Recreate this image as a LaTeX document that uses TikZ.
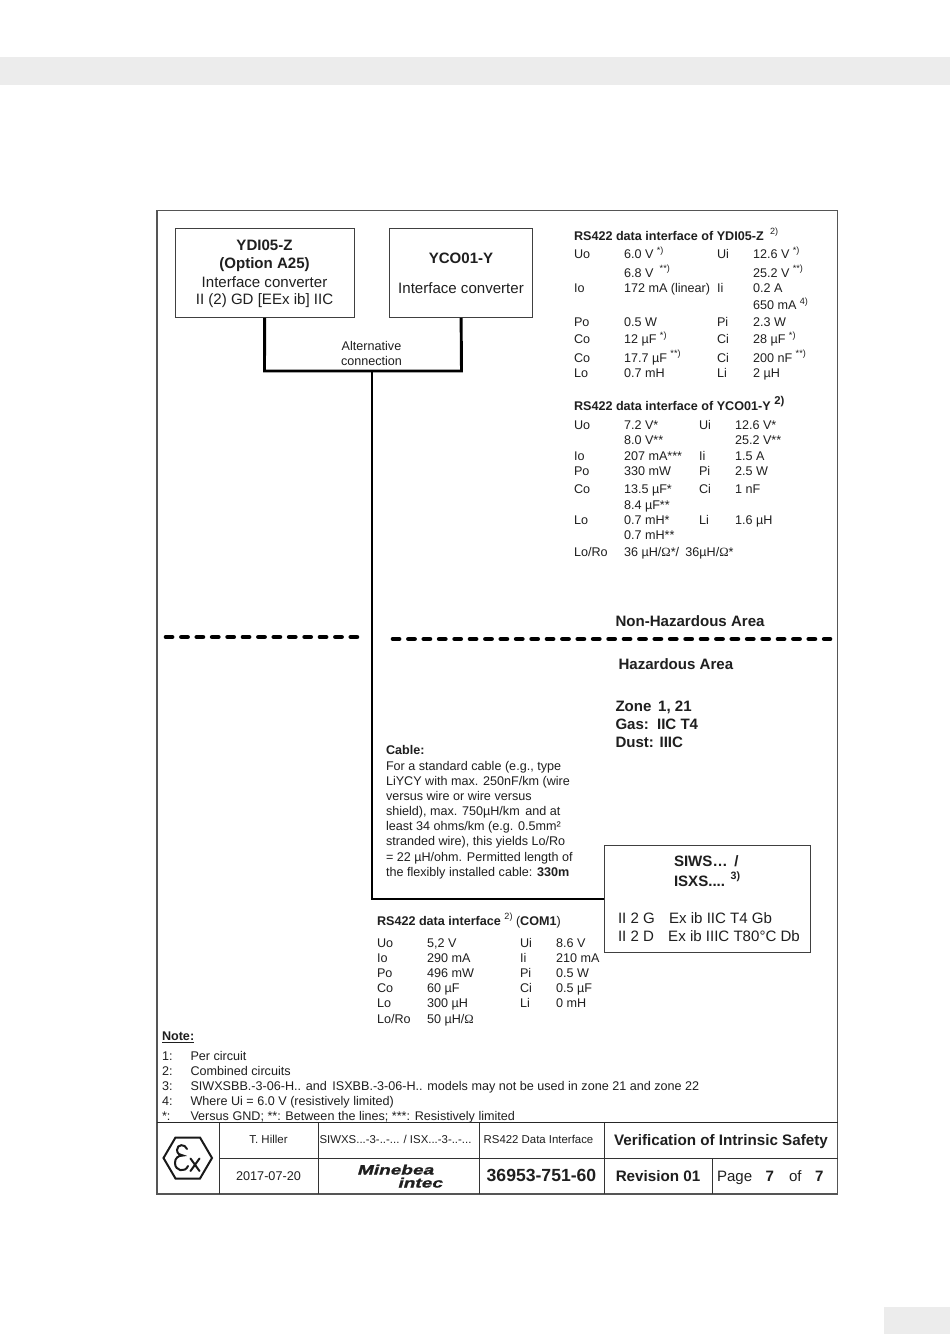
\documentclass[tikz,border=0pt]{standalone}
\usepackage{fontspec}
\setmainfont{Liberation Sans}
\newfontfamily\serifom{Liberation Serif}
\newfontfamily\mbf[FakeBold=1.2,FakeSlant=0.2]{Liberation Sans Bold}
\newcounter{tn}
\newcommand{\fs}[1]{\fontsize{#1}{#1}\selectfont}
\newcommand{\Om}{{\serifom Ω}}
\newcommand{\Up}[1]{\raisebox{0.45em}{\fontsize{6.8}{7}\selectfont #1}}
\newcommand{\LT}[4][9.45]{\stepcounter{tn}\node[txt,name=t\arabic{tn}] at (#2,#3) {\fs{#1}#4};}
\newcommand{\CT}[4][9.45]{\stepcounter{tn}\node[ctxt,name=t\arabic{tn}] at (#2,#3) {\fs{#1}#4};}
\newcommand{\Row}[5]{\LT{#1}{#2}{#3}\LT{#4}{#2}{#5}}
\definecolor{frameg}{HTML}{555555}
\definecolor{bandg}{HTML}{ECECEC}
\tikzset{
 txt/.style={anchor=base west,inner sep=0pt,outer sep=0pt,text=black!88},
 ctxt/.style={anchor=base,inner sep=0pt,outer sep=0pt,text=black!88},
 boxed/.style={draw=black!75,line width=0.6pt,fill=white},
 heavy/.style={line width=2.2pt,draw=black,line join=miter},
 divider/.style={line width=3.5pt,draw=black,line cap=round,dash pattern=on 4.6pt off 6.95pt},
 rule/.style={draw=black!80,line width=0.7pt},
 framerule/.style={draw=frameg,line width=0.8pt},
 exline/.style={line width=1.5pt,draw=black!90},
}
\begin{document}
\begin{tikzpicture}[x=0.75pt,y=-0.75pt]
\useasboundingbox (0,0) rectangle (950,1344);
\fill[white] (0,0) rectangle (950,1344);
\fill[bandg] (0,57) rectangle (950,85);
\fill[bandg] (884,1307) rectangle (950,1334);

% frame
\draw[framerule] (157,210.5) rectangle (837.5,1194);

% connectors
\coordinate (jl) at (264.5,371);
\coordinate (jr) at (461.5,371);
\coordinate (jm) at (372,371);
\coordinate (jb) at (372,899);
\node[boxed,minimum width=179pt*0.75,minimum height=89pt*0.75,inner sep=0pt,anchor=north west] (ydi) at (174.7,228) {};
\node[boxed,minimum width=143pt*0.75,minimum height=89pt*0.75,inner sep=0pt,anchor=north west] (yco) at (389.2,228) {};
\node[boxed,minimum width=206pt*0.75,minimum height=107pt*0.75,inner sep=0pt,anchor=north west] (siws) at (604.2,845) {};
\draw[heavy] (ydi.south) -- (jl) -- (jr) -- (yco.south);
\draw[heavy] (jm) -- (jb) -- (jb -| siws.west);

% dividers
\coordinate (dla) at (166,637); \coordinate (dlb) at (358,637);
\coordinate (dra) at (393,639); \coordinate (drb) at (830,639);
\draw[divider] (dla) -- (dlb);
\draw[divider] (dra) -- (drb);

% box texts
\CT[11.3]{264.5}{250.5}{\textbf{YDI05-Z}}
\CT[11.3]{264.5}{268.5}{\textbf{(Option A25)}}
\CT[11.3]{264.5}{287}{Interface converter}
\CT[11.3]{264.5}{305}{II (2) GD [EEx ib] IIC}
\CT[11.3]{461}{263.5}{\textbf{YCO01-Y}}
\CT[11.3]{461}{294}{Interface converter}
\CT{371.5}{350}{Alternative}
\CT{371.5}{365}{connection}

% YDI05-Z data
\LT{574}{240.5}{\textbf{RS422 data interface of YDI05-Z}\enspace\Up{2)}}
\Row{574}{259}{Uo}{624}{6.0 V \Up{*)}}\LT{717}{259}{Ui}\LT{753}{259}{12.6 V \Up{*)}}
\LT{624}{277}{6.8 V\enspace\Up{**)}}\LT{753}{277}{25.2 V \Up{**)}}
\Row{574}{293}{Io}{624}{172 mA (linear)}\LT{717}{293}{Ii}\LT{753}{293}{0.2 A}
\LT{753}{310}{650 mA \Up{4)}}
\Row{574}{326}{Po}{624}{0.5 W}\LT{717}{326}{Pi}\LT{753}{326}{2.3 W}
\Row{574}{344}{Co}{624}{12 µF \Up{*)}}\LT{717}{344}{Ci}\LT{753}{344}{28 µF \Up{*)}}
\Row{574}{362}{Co}{624}{17.7 µF \Up{**)}}\LT{717}{362}{Ci}\LT{753}{362}{200 nF \Up{**)}}
\Row{574}{377}{Lo}{624}{0.7 mH}\LT{717}{377}{Li}\LT{753}{377}{2 µH}

% YCO01-Y data
\LT{574}{410}{\textbf{RS422 data interface of YCO01-Y \Up{\fs{8.5}2)}}}
\Row{574}{429}{Uo}{624}{7.2 V*}\LT{699}{429}{Ui}\LT{735}{429}{12.6 V*}
\LT{624}{444}{8.0 V**}\LT{735}{444}{25.2 V**}
\Row{574}{460}{Io}{624}{207 mA***}\LT{699}{460}{Ii}\LT{735}{460}{1.5 A}
\Row{574}{475}{Po}{624}{330 mW}\LT{699}{475}{Pi}\LT{735}{475}{2.5 W}
\Row{574}{493}{Co}{624}{13.5 µF*}\LT{699}{493}{Ci}\LT{735}{493}{1 nF}
\LT{624}{509}{8.4 µF**}
\Row{574}{524}{Lo}{624}{0.7 mH*}\LT{699}{524}{Li}\LT{735}{524}{1.6 µH}
\LT{624}{539}{0.7 mH**}
\Row{574}{556}{Lo/Ro}{624}{36 µH/\Om*/\enspace36µH/\Om*}

% areas
\LT[11.3]{615.5}{626}{\textbf{Non-Hazardous Area}}
\LT[11.3]{618.5}{669}{\textbf{Hazardous Area}}
\LT[11.3]{615.5}{711}{\textbf{Zone\, 1, 21}}
\LT[11.3]{615.5}{729}{\textbf{Gas:\, IIC T4}}
\LT[11.3]{615.5}{747}{\textbf{Dust: IIIC}}

% cable
\LT{386}{754}{\textbf{Cable:}}
\LT{386}{770}{For a standard cable (e.g., type}
\LT{386}{785}{LiYCY with max. 250nF/km (wire}
\LT{386}{800}{versus wire or wire versus}
\LT{386}{815}{shield), max. 750µH/km\, and at}
\LT{386}{830}{least 34 ohms/km (e.g. 0.5mm²}
\LT{386}{845}{stranded wire), this yields Lo/Ro}
\LT{386}{861}{= 22 µH/ohm. Permitted length of}
\LT{386}{876}{the flexibly installed cable: \textbf{330m}}

% SIWS box
\LT[11.3]{674}{866}{\textbf{SIWS…\, /}}
\LT[11.3]{674}{886}{\textbf{ISXS.... \Up{\fs{8}3)}}}
\LT[11.3]{618}{923}{II 2 G\enspace\, Ex ib IIC T4 Gb}
\LT[11.3]{618}{941}{II 2 D\enspace\, Ex ib IIIC T80°C Db}

% COM1 data
\LT{377}{925}{\textbf{RS422 data interface} \Up{2)} (\textbf{COM1})}
\Row{377}{947}{Uo}{427}{5,2 V}\LT{520}{947}{Ui}\LT{556}{947}{8.6 V}
\Row{377}{962}{Io}{427}{290 mA}\LT{520}{962}{Ii}\LT{556}{962}{210 mA}
\Row{377}{977}{Po}{427}{496 mW}\LT{520}{977}{Pi}\LT{556}{977}{0.5 W}
\Row{377}{992}{Co}{427}{60 µF}\LT{520}{992}{Ci}\LT{556}{992}{0.5 µF}
\Row{377}{1007}{Lo}{427}{300 µH}\LT{520}{1007}{Li}\LT{556}{1007}{0 mH}
\Row{377}{1023}{Lo/Ro}{427}{50 µH/\Om}

% notes
\LT{162}{1040}{\textbf{\underline{Note:}}}
\Row{162}{1060}{1:}{190.5}{Per circuit}
\Row{162}{1075}{2:}{190.5}{Combined circuits}
\Row{162}{1090}{3:}{190.5}{SIWXSBB.-3-06-H.. and\, ISXBB.-3-06-H.. models may not be used in zone 21 and zone 22}
\Row{162}{1105}{4:}{190.5}{Where Ui = 6.0 V (resistively limited)}
\Row{162}{1120}{*:}{190.5}{Versus GND; **: Between the lines; ***: Resistively limited}

% title block
\coordinate (ta) at (157,1122.5); \coordinate (tb) at (837.5,1122.5);
\draw[line width=1.1pt,draw=black!85] (ta) -- (tb);
\coordinate (ma) at (219.5,1158.5); \coordinate (mb) at (837.5,1158.5);
\draw[rule] (ma) -- (mb);
\foreach \xx in {219.5,318,479,604.5}{\draw[rule] (\xx,1122.5) -- (\xx,1194);}
\draw[rule] (712,1158.5) -- (712,1194);
\CT[8.6]{268.5}{1143.5}{T. Hiller}
\CT[8.55]{395.5}{1143.5}{SIWXS...-3-..-... / ISX...-3-..-...}
\CT[8.55]{538.5}{1143.5}{RS422 Data Interface}
\CT[11.4]{721}{1145}{\textbf{Verification of Intrinsic Safety}}
\CT[9.5]{268.5}{1180}{2017-07-20}
\CT[13.2]{541.5}{1181}{\textbf{36953-751-60}}
\CT[11.4]{658}{1181}{\textbf{Revision 01}}
\LT[11.3]{717}{1181}{Page}\LT[11.3]{765.5}{1181}{\textbf{7}}\LT[11.3]{789}{1181}{of}\LT[11.3]{815}{1181}{\textbf{7}}

% logos
\node[txt,name=mb1,xscale=1.4] at (357,1174.5) {\fs{10.2}\mbf Minebea};
\node[txt,name=mb2,xscale=1.4] at (397.5,1187.5) {\fs{10.2}\mbf intec};
\coordinate (h1) at (163.5,1158); \coordinate (h2) at (175.5,1137.5); \coordinate (h3) at (200,1137.5);
\coordinate (h4) at (212,1158); \coordinate (h5) at (200,1178.5); \coordinate (h6) at (175.5,1178.5);
\draw[exline,line join=miter] (h1) -- (h2) -- (h3) -- (h4) -- (h5) -- (h6) -- cycle;
\draw[exline,line cap=round] (187,1149) .. controls (185,1143.5) and (177,1144) .. (177,1150) .. controls (177,1153.5) and (180,1155.5) .. (183,1155.5) .. controls (178,1155.5) and (175,1158) .. (175,1163) .. controls (175,1171) and (185,1173) .. (188,1166);
\draw[exline,line cap=round] (190.5,1158.5) -- (199.5,1171) (199.5,1158.5) -- (190.5,1171);
\end{tikzpicture}
\end{document}
